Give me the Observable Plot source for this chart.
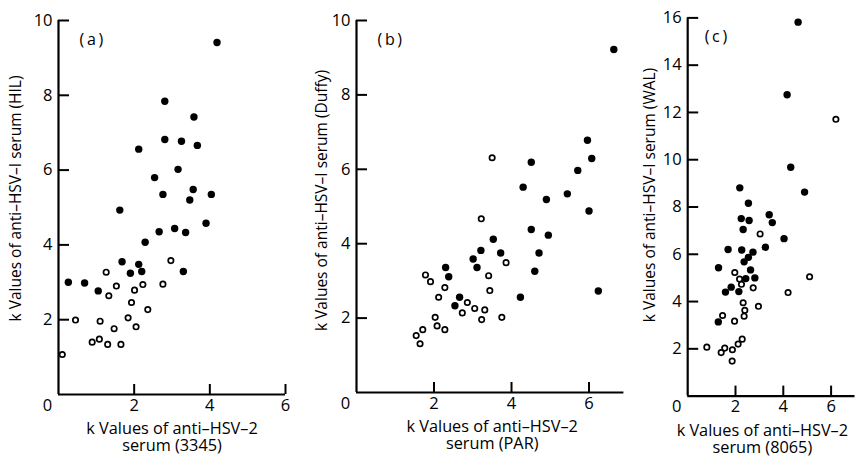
<!DOCTYPE html>
<html>
<head>
<meta charset="utf-8">
<script src="https://cdn.jsdelivr.net/npm/d3@7"></script>
<script src="https://cdn.jsdelivr.net/npm/@observablehq/plot@0.6"></script>
<style>
  html, body { margin: 0; padding: 0; background: #fff; }
  #wrap { position: relative; width: 858px; height: 459px; overflow: hidden; background: #fff; }
  #wrap svg { position: absolute; top: 0; }
</style>
</head>
<body>
<div id="wrap"></div>
<script>
// ---------------- data ----------------
const panelLabels = ["(\u2009a\u2009)", "(\u2009b\u2009)", "(\u2009c\u2009)"];
const yTitles = [
  "k Values of anti–HSV–I serum (HIL)",
  "k Values of anti–HSV–I serum (Duffy)",
  "k Values of anti–HSV–I serum (WAL)"
];
const xTitles = [
  "k Values of anti–HSV–2\nserum (3345)",
  "k Values of anti–HSV–2\nserum (PAR)",
  "k Values of anti–HSV–2\nserum (8065)"
];
const xTicks = [2, 4, 6];
const yTicksAB = [2, 4, 6, 8, 10];
const yTicksC = [2, 4, 6, 8, 10, 12, 14, 16];

const aFilled = [[4.19,9.41],[2.81,7.84],[3.58,7.42],[2.81,6.82],[3.25,6.77],[3.67,6.66],[2.12,6.56],[3.16,6.02],[2.54,5.80],[2.76,5.35],[3.56,5.48],[4.04,5.35],[3.47,5.20],[1.62,4.93],[3.90,4.58],[2.66,4.35],[3.07,4.44],[3.36,4.33],[2.29,4.07],[1.68,3.55],[2.12,3.48],[1.90,3.24],[2.20,3.29],[3.30,3.29],[0.26,3.00],[0.69,2.98],[1.05,2.77]];
const aOpen = [[2.97,3.58],[1.26,3.27],[1.53,2.90],[2.23,2.94],[2.76,2.95],[2.01,2.79],[1.33,2.64],[1.93,2.46],[2.36,2.27],[0.45,1.99],[1.10,1.96],[1.84,2.05],[1.47,1.76],[2.05,1.81],[0.89,1.40],[1.08,1.48],[1.30,1.34],[1.65,1.34],[0.10,1.07]];

const bFilled = [[6.64,9.22],[5.96,6.78],[6.07,6.29],[4.51,6.19],[5.71,5.97],[4.30,5.52],[5.44,5.34],[4.90,5.19],[6.00,4.88],[4.51,4.38],[4.95,4.23],[3.53,4.12],[3.21,3.82],[3.72,3.75],[4.71,3.75],[3.01,3.59],[2.30,3.36],[3.11,3.36],[4.60,3.26],[2.38,3.11],[2.66,2.56],[4.23,2.56],[2.54,2.33],[6.24,2.73]];
const bOpen = [[3.50,6.31],[3.22,4.67],[3.86,3.49],[3.41,3.14],[1.78,3.16],[1.91,2.98],[2.28,2.82],[3.44,2.74],[2.12,2.56],[2.86,2.42],[3.05,2.26],[3.31,2.22],[2.73,2.14],[2.03,2.02],[3.75,2.02],[3.23,1.96],[1.71,1.69],[2.08,1.79],[2.28,1.69],[1.54,1.53],[1.64,1.31]];

const cFilled = [[4.62,15.82],[4.16,12.75],[4.31,9.68],[4.89,8.63],[2.18,8.81],[2.54,8.16],[2.24,7.51],[2.57,7.43],[3.41,7.67],[3.54,7.34],[2.32,7.05],[4.03,6.66],[1.69,6.20],[2.26,6.18],[3.25,6.30],[2.73,6.09],[2.54,5.87],[2.36,5.68],[1.29,5.43],[2.63,5.34],[2.43,4.97],[2.81,5.00],[1.82,4.61],[1.58,4.40],[2.14,4.42],[1.28,3.14]];
const cOpen = [[6.20,11.71],[3.03,6.86],[5.10,5.05],[1.97,5.23],[2.17,4.95],[2.25,4.73],[2.74,4.58],[4.20,4.38],[2.32,3.95],[2.96,3.80],[2.39,3.63],[1.46,3.41],[2.36,3.38],[1.96,3.17],[2.28,2.41],[2.11,2.20],[0.80,2.07],[1.55,2.03],[1.87,1.96],[1.40,1.84],[1.86,1.48]];

// ---------------- layout ----------------
const FONT = "'Open Sans', 'DejaVu Sans', sans-serif";
const H = 459;
const panels = [
  {left: 0,   width: 290, ml: 58,  mr: 5,   mt: 20,   mb: 65,   xMax: 6,   yMax: 10, yTicks: yTicksAB, filled: aFilled, open: aOpen,
   label: panelLabels[0], yTitle: yTitles[0], xTitle: xTitles[0], ytDx: -42, ytDy: -9, xtDx: 0, lblDx: 21, lblDy: 13},
  {left: 290, width: 340, ml: 66,  mr: 6.6, mt: 20,   mb: 67,   xMax: 6.9, yMax: 10, yTicks: yTicksAB, filled: bFilled, open: bOpen,
   label: panelLabels[1], yTitle: yTitles[1], xTitle: xTitles[1], ytDx: -34, ytDy: -6, xtDx: 2, lblDx: 21, lblDy: 13},
  {left: 620, width: 238, ml: 67.2,mr: 3.5, mt: 17.4, mb: 63.4, xMax: 7,   yMax: 16, yTicks: yTicksC,  filled: cFilled, open: cOpen,
   label: panelLabels[2], yTitle: yTitles[2], xTitle: xTitles[2], ytDx: -38, ytDy: -12, xtDx: -9, lblDx: 17, lblDy: 13}
];

const wrap = document.getElementById("wrap");
for (const p of panels) {
  const frameW = p.width - p.ml - p.mr;
  const frameH = H - p.mt - p.mb;
  const chart = Plot.plot({
    width: p.width,
    height: H,
    marginLeft: p.ml, marginRight: p.mr, marginTop: p.mt, marginBottom: p.mb,
    style: {fontFamily: FONT, background: "transparent", overflow: "visible"},
    x: {domain: [0, p.xMax], axis: null},
    y: {domain: [0, p.yMax], axis: null},
    marks: [
      // axis lines
      Plot.ruleX([0], {y1: 0, y2: p.yMax, stroke: "#000", strokeWidth: 2.2}),
      Plot.ruleY([0], {x1: 0, x2: p.xMax, stroke: "#000", strokeWidth: 2.2}),
      // inward ticks
      Plot.tickX(xTicks, {x: d => d, insetTop: frameH - 10, stroke: "#000", strokeWidth: 2}),
      Plot.tickY(p.yTicks, {y: d => d, insetRight: frameW - 11, stroke: "#000", strokeWidth: 2}),
      // tick labels
      Plot.text(xTicks, {x: d => d, frameAnchor: "bottom", dy: 16, text: d => String(d), fontSize: 16.5, fill: "#000"}),
      Plot.text([0], {x: d => d, frameAnchor: "bottom", dy: 16, dx: -11, text: d => String(d), fontSize: 16.5, fill: "#000"}),
      Plot.text(p.yTicks, {y: d => d, frameAnchor: "left", dx: -6, textAnchor: "end", text: d => String(d), fontSize: 16.5, fill: "#000"}),
      // axis titles
      Plot.text([p.xTitle], {frameAnchor: "bottom", textAnchor: "middle", lineAnchor: "top", dy: 28, dx: p.xtDx, text: d => d, fontSize: 16.3, lineHeight: 1.03, fill: "#000"}),
      Plot.text([p.yTitle], {frameAnchor: "left", textAnchor: "middle", rotate: -90, dx: p.ytDx, dy: p.ytDy, text: d => d, fontSize: 15.5, fill: "#000"}),
      // panel label
      Plot.text([p.label], {frameAnchor: "top-left", textAnchor: "start", dx: p.lblDx, dy: p.lblDy, text: d => d, fontSize: 16, fill: "#000"}),
      // data
      Plot.dot(p.open, {x: d => d[0], y: d => d[1], r: 2.7, fill: "#fff", stroke: "#000", strokeWidth: 1.7}),
      Plot.dot(p.filled, {x: d => d[0], y: d => d[1], r: 3.7, fill: "#000", stroke: "none"})
    ]
  });
  chart.style.left = p.left + "px";
  wrap.appendChild(chart);
}
</script>
</body>
</html>
